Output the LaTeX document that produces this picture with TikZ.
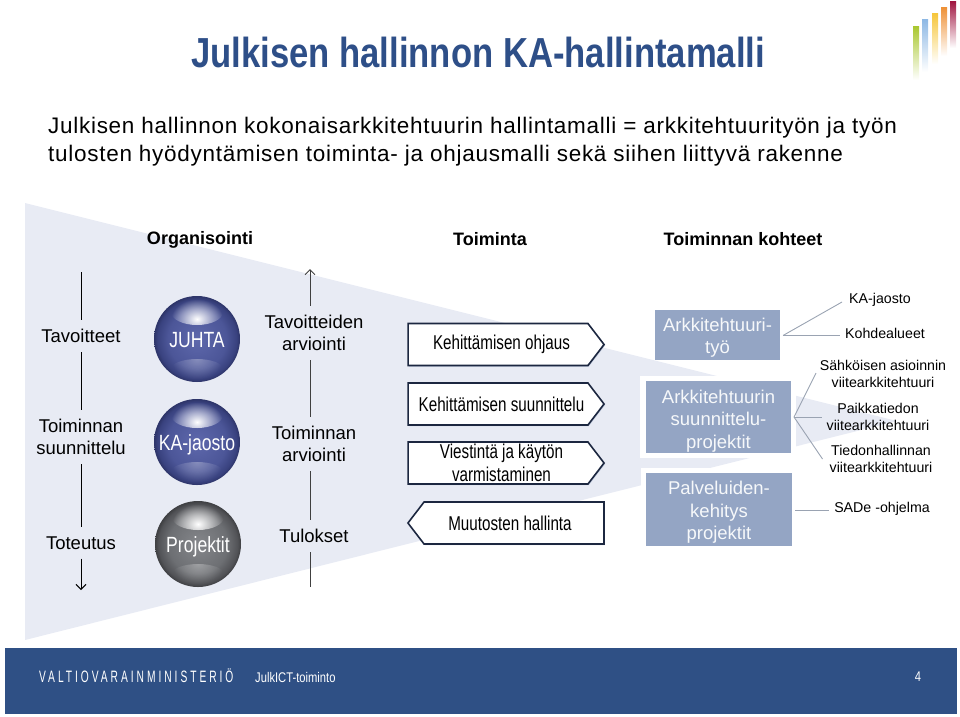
\documentclass[tikz,border=0pt]{standalone}
\usepackage{fontspec}
\setmainfont{Liberation Sans}
\newfontfamily\orbfont[FakeStretch=0.80]{Liberation Sans}
\newfontfamily\arrowfont[FakeStretch=0.76]{Liberation Sans}
\newfontfamily\footfont[FakeStretch=0.80]{Liberation Sans}
\newfontfamily\titlefont[FakeStretch=0.825]{Liberation Sans}
\newfontfamily\widefont[LetterSpace=3.2]{Liberation Sans}
\newfontfamily\ministryfont[FakeStretch=0.62,LetterSpace=18]{Liberation Sans}
\usetikzlibrary{shapes.symbols,shadows,fadings,arrows.meta}
\definecolor{slateblue}{HTML}{94A5C4}
\definecolor{wedgeblue}{HTML}{E8EBF4}
\definecolor{footblue}{HTML}{2F5085}
\definecolor{titleblue}{HTML}{2E4F88}
\definecolor{signalnavy}{HTML}{1C2740}
\definecolor{fangrey}{HTML}{9AA3B2}
\definecolor{orbcore}{HTML}{5E68AC}
\definecolor{orbmid}{HTML}{4C5698}
\definecolor{orbrim}{HTML}{39427F}
\definecolor{orbedge}{HTML}{2D3468}
\definecolor{orbgcore}{HTML}{85878B}
\definecolor{orbgmid}{HTML}{6D6F73}
\definecolor{orbgrim}{HTML}{525357}
\definecolor{orbgedge}{HTML}{3E3F42}
\pgfdeclareradialshading{orbblue}{\pgfpoint{0bp}{0bp}}{color(0bp)=(orbcore); color(17bp)=(orbmid); color(23bp)=(orbrim); color(25bp)=(orbedge); color(50bp)=(orbedge)}
\pgfdeclareradialshading{orbgrey}{\pgfpoint{0bp}{0bp}}{color(0bp)=(orbgcore); color(17bp)=(orbgmid); color(23bp)=(orbgrim); color(25bp)=(orbgedge); color(50bp)=(orbgedge)}
\tikzfading[name=orbglow, inner color=transparent!0, outer color=transparent!100]
\tikzset{
	sidelabel/.style={align=center, inner xsep=2pt, inner ysep=9pt, font=\fontsize{18.5}{22.5}\selectfont},
	headlabel/.style={font=\fontsize{18}{22}\selectfont\bfseries},
	orb/.style={circle, minimum size=86pt, inner sep=0pt, text=white, text height=18pt, text depth=2pt, font=\orbfont\fontsize{22}{26}\selectfont},
	arrowbox/.style={signal, draw=signalnavy, line width=1.6pt, fill=white, align=center, inner sep=0pt,
		minimum width=196pt, minimum height=42pt, signal pointer angle=105,
		drop shadow={shadow xshift=1pt, shadow yshift=-1pt, fill=slateblue, opacity=0.5},
		font=\arrowfont\fontsize{20}{22.5}\selectfont},
	stagebox/.style={fill=slateblue, text=white!92!slateblue, align=center, inner sep=0pt, text depth=4pt, font=\fontsize{18.5}{22.5}\selectfont},
	targetlabel/.style={align=center, inner xsep=5pt, inner ysep=1pt, font=\fontsize{14.2}{17}\selectfont},
	fanline/.style={draw=fangrey, line width=0.9pt},
	barb/.style={-{Straight Barb[length=5pt,width=10pt]}}
}
\begin{document}
\begin{tikzpicture}[x=1pt, y=-1pt]
	\useasboundingbox (0, 0) rectangle (960, 716);
	%%%%% BACKGROUND %%%%%
	\fill[wedgeblue] (25, 203) -- (897, 421) -- (25, 640) -- cycle;
	\foreach \xpos/\ytop/\ybot/\barcolor in {913/26/80/A9C72F, 922/19/72/8DB8E4, 932/13/64/F6C63A, 941/7/56/EE9136, 950/1/48/A0143F}{
		\definecolor{barshade}{HTML}{\barcolor}
		\shade[top color=barshade, bottom color=white] (\xpos, \ytop) rectangle (\xpos+6, \ybot);
	}
	%%%%% TITLE %%%%%
	\node[anchor=west, inner sep=0pt, text=titleblue, font=\titlefont\fontsize{42}{48}\selectfont\bfseries] (titleline) at (191, 52) {Julkisen hallinnon KA-hallintamalli};
	\node[anchor=north west, inner sep=0pt, text=black, align=left, font=\widefont\fontsize{22.5}{28.5}\selectfont] (subline) at (48, 116.5) {Julkisen hallinnon kokonaisarkkitehtuurin hallintamalli = arkkitehtuurityön ja työn\\tulosten hyödyntämisen toiminta- ja ohjausmalli sekä siihen liittyvä rakenne};
	%%%%% HEADINGS %%%%%
	\node[headlabel] (organisointi) at (200, 240) {Organisointi};
	\node[headlabel] (toiminta) at (490, 239) {Toiminta};
	\node[headlabel] (kohteet) at (743, 239) {Toiminnan kohteet};
	%%%%% LEFT COLUMN %%%%%
	\coordinate (lefttop) at (81, 272);
	\coordinate (leftend) at (81, 590);
	\node[sidelabel] (tavoitteet) at (81, 336) {Tavoitteet};
	\node[sidelabel] (suunnittelu) at (81, 437) {Toiminnan\\suunnittelu};
	\node[sidelabel] (toteutus) at (81, 543) {Toteutus};
	\draw[line width=1pt] (lefttop) -- (tavoitteet);
	\draw[line width=1pt] (tavoitteet) -- (suunnittelu);
	\draw[line width=1pt] (suunnittelu) -- (toteutus);
	\draw[line width=1pt, barb] (toteutus) -- (leftend);
	%%%%% SPHERES %%%%%
	\node[orb, shading=orbblue] (juhta) at (197, 339) {JUHTA};
	\node[orb, shading=orbblue] (jaosto) at (197, 442) {KA-jaosto};
	\node[orb, shading=orbgrey] (projektit) at (198, 544) {Projektit};
	\foreach \orbname in {juhta, jaosto, projektit}{
		\fill[white, path fading=orbglow] (\orbname.center) ++(0, -27) ellipse (26 and 13);
		\fill[white, opacity=0.3, path fading=orbglow] (\orbname.center) ++(0, 30) ellipse (26 and 10);
	}
	%%%%% RIGHT COLUMN %%%%%
	\coordinate (righttop) at (310, 269);
	\coordinate (rightend) at (310, 587);
	\node[sidelabel] (tavarviointi) at (314, 333) {Tavoitteiden\\arviointi};
	\node[sidelabel] (toiarviointi) at (314, 444) {Toiminnan\\arviointi};
	\node[sidelabel] (tulokset) at (314, 536) {Tulokset};
	\draw[line width=1pt, black!75, barb] (tavarviointi.north -| righttop) -- (righttop);
	\draw[line width=1pt, black!75] (tavarviointi.south -| righttop) -- (toiarviointi.north -| righttop);
	\draw[line width=1pt, black!75] (toiarviointi.south -| righttop) -- (tulokset.north -| righttop);
	\draw[line width=1pt, black!75] (tulokset.south -| righttop) -- (rightend);
	%%%%% ARROW BOXES %%%%%
	\node[arrowbox, signal to=east] (ohjaus) at (498, 344.5) {\hspace*{7pt}Kehittämisen ohjaus};
	\node[arrowbox, signal to=east] (kehsuun) at (498, 404) {\hspace*{7pt}Kehittämisen suunnittelu};
	\node[arrowbox, signal to=east] (viestinta) at (498, 463) {\hspace*{7pt}Viestintä ja käytön\\\hspace*{7pt}varmistaminen};
	\node[arrowbox, signal to=west] (muutosten) at (514, 523) {Muutosten hallinta\hspace*{8pt}};
	%%%%% STAGE BOXES %%%%%
	\fill[white] (640, 376) rectangle (796, 458);
	\fill[white] (641, 468) rectangle (797, 551);
	\node[stagebox, minimum width=125pt, minimum height=50pt, text height=41.5pt] (tyo) at (717.5, 335) {Arkkitehtuuri-\\työ};
	\node[stagebox, minimum width=145pt, minimum height=72pt, text height=66pt] (suunprojekti) at (718.5, 417) {Arkkitehtuurin\\suunnittelu-\\projektit};
	\node[stagebox, minimum width=146pt, minimum height=73pt, text height=64pt] (kehitys) at (719, 509.5) {Palveluiden-\\kehitys\\projektit};
	%%%%% TARGETS %%%%%
	\node[targetlabel] (kajaosto) at (880, 300) {KA-jaosto};
	\node[targetlabel] (kohdealueet) at (885, 333) {Kohdealueet};
	\node[targetlabel] (sahkoinen) at (883, 374) {Sähköisen asioinnin\\viitearkkitehtuuri};
	\node[targetlabel] (paikka) at (878, 417) {Paikkatiedon\\viitearkkitehtuuri};
	\node[targetlabel] (tieto) at (881, 458.5) {Tiedonhallinnan\\viitearkkitehtuuri};
	\node[targetlabel] (sade) at (882, 509) {SADe -ohjelma};
	\coordinate (fantyo) at (783, 335.5);
	\coordinate (fansuun) at (794, 417);
	\coordinate (fankeh) at (795, 510);
	\draw[fanline] (fantyo) -- (842, 302);
	\draw[fanline] (fantyo) -- (fantyo -| kohdealueet.west);
	\draw[fanline] (fansuun) -- (816, 373);
	\draw[fanline] (fansuun) -- (fansuun -| paikka.west);
	\draw[fanline] (fansuun) -- (822.5, 459);
	\draw[fanline] (fankeh) -- (fankeh -| sade.west);
	%%%%% FOOTER %%%%%
	\fill[footblue] (5, 648) rectangle (957, 714);
	\node[anchor=west, inner sep=0pt, text=white, font=\ministryfont\fontsize{16.5}{18}\selectfont] (ministry) at (39, 676) {VALTIOVARAINMINISTERIÖ};
	\node[anchor=west, inner sep=0pt, text=white, font=\footfont\fontsize{14}{17}\selectfont] (footlabel) at (255, 677) {JulkICT-toiminto};
	\node[inner sep=0pt, text=white, font=\footfont\fontsize{14}{17}\selectfont] (pagenumber) at (918, 677) {4};
\end{tikzpicture}
\end{document}
